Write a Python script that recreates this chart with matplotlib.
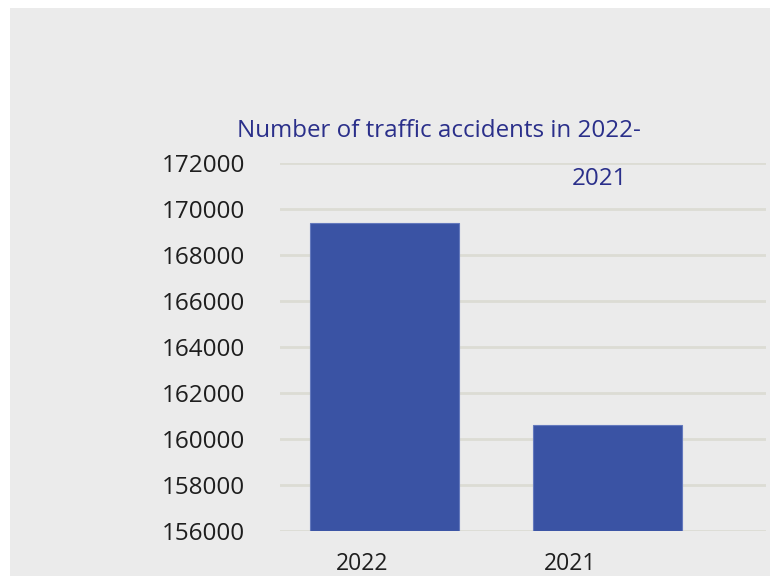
import matplotlib
matplotlib.use("Agg")
import matplotlib.pyplot as plt
import matplotlib.transforms as mtransforms
from matplotlib.patches import Rectangle

years = ["2022", "2021"]
accidents = [169400, 160600]
y_ticks = [156000, 158000, 160000, 162000, 164000, 166000, 168000, 170000, 172000]
title_line1 = "Number of traffic accidents in 2022-"
title_line2 = "2021"

plt.rcParams["font.family"] = ["Open Sans", "DejaVu Sans"]

fig = plt.figure(figsize=(7.76, 5.76), dpi=100)
fig.patch.set_facecolor("white")

# grey panel behind the chart
fig.patches.append(Rectangle((10 / 776, 0), 760 / 776, 568 / 576,
                             transform=fig.transFigure, facecolor="#ebebeb",
                             edgecolor="none", zorder=-10))

ax = fig.add_axes([280 / 776, 1 - 531 / 576, 486 / 776, 368 / 576])
ax.set_zorder(5)
ax.set_facecolor("none")

x = list(range(len(years)))
ax.bar(x, [v - y_ticks[0] for v in accidents], bottom=y_ticks[0], width=0.67,
       color="#3a53a4", edgecolor="#6479bd", linewidth=0.8, zorder=3)

ax.set_ylim(y_ticks[0], y_ticks[-1])
ax.set_xlim(-0.469, 1.711)
ax.set_yticks(y_ticks)
ax.set_yticklabels([str(v) for v in y_ticks], fontsize=17.5, color="#1e1e1e")
ax.yaxis.grid(True, color="#dcdcd4", linewidth=2, zorder=0)
ax.set_axisbelow(True)
ax.tick_params(axis="y", length=0, pad=25)
ax.tick_params(axis="x", length=0, pad=15)

ax.set_xticks(x)
ax.set_xticklabels(years, fontsize=16.5, color="#1e1e1e")
# category labels sit a little left of their bars
label_shifts = [-0.225, -0.375]
for lbl, dx in zip(ax.get_xticklabels(), label_shifts):
    lbl.set_transform(lbl.get_transform()
                      + mtransforms.ScaledTranslation(dx, 0, fig.dpi_scale_trans))

for s in ax.spines.values():
    s.set_visible(False)

fig.text(237 / 776, 1 - 131 / 576, title_line1, fontsize=17.4, color="#2a2f8a",
         ha="left", va="center")
fig.text(627 / 776, 1 - 179 / 576, title_line2, fontsize=17.4, color="#2a2f8a",
         ha="right", va="center")

fig.savefig("out.png", dpi=100)
